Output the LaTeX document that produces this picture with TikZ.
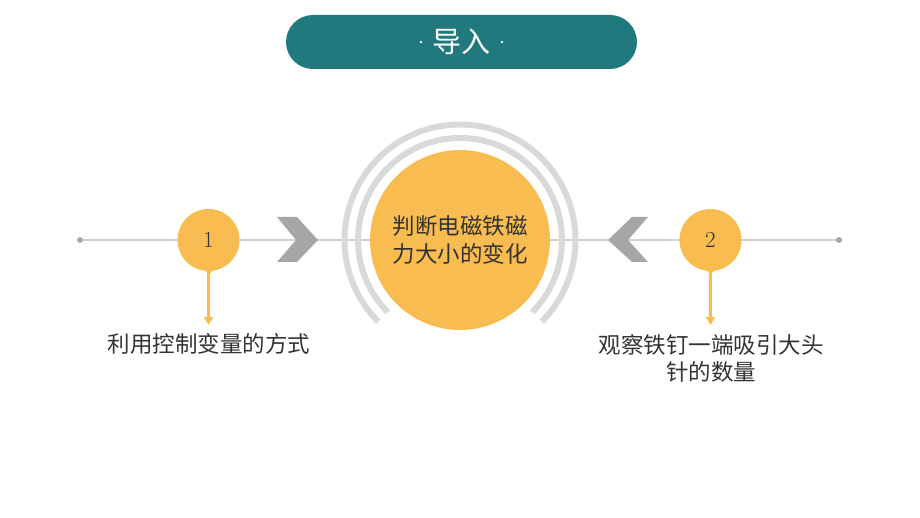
\documentclass[tikz,border=0pt]{standalone}
\usepackage{fontspec}
\newfontfamily\cjk{Noto Sans CJK SC}
\usetikzlibrary{arrows.meta,calc}
\definecolor{teal1}{HTML}{1F797D}
\definecolor{orange1}{HTML}{F8BC50}
\definecolor{arcgray}{HTML}{D9D9D9}
\definecolor{linegray}{HTML}{D0D0D0}
\definecolor{chevgray}{HTML}{A6A6A6}
\definecolor{txt}{HTML}{333333}
\tikzset{
  dotend/.style={circle,fill=chevgray,inner sep=0pt,minimum size=6pt},
  smallball/.style={circle,fill=orange1,inner sep=0pt,minimum size=62pt,font=\fontsize{23}{26}\selectfont,text=txt},
  bigball/.style={circle,fill=orange1,inner sep=0pt,minimum size=180pt,font=\cjk\fontsize{22.5}{28}\selectfont,text=txt,align=center},
  ring/.style={draw=arcgray,line width=6pt},
  chev/.style={fill=chevgray},
  downarrow/.style={draw=orange1,line width=2.5pt,-{Triangle[width=9pt,length=8pt]}},
  label/.style={font=\cjk\fontsize{22.5}{27}\selectfont,text=txt,align=center,inner sep=0pt},
}
\begin{document}
\begin{tikzpicture}[x=1pt,y=1pt]
\useasboundingbox (0,0) rectangle (920,518);
% title pill
\fill[teal1,rounded corners=27pt] (286,449) rectangle (637,503);
\node[font=\fontsize{29}{32}\selectfont,text=white] (title) at (461.5,476) {·\kern1pt{\cjk 导入}\kern1pt·};
% main line
\node[dotend] (dl) at (80,278) {};
\node[dotend] (dr) at (839,278) {};
\draw[linegray,line width=1.2pt] (dl) -- (dr);
% rings
\coordinate (cc) at (460,278);
\draw[ring] ($(cc)+(-45:102pt)$) arc[start angle=-45,end angle=225,radius=102pt];
\draw[ring] ($(cc)+(-45:115.5pt)$) arc[start angle=-45,end angle=225,radius=115.5pt];
% center ball
\node[bigball] (center) at (cc) {判断电磁铁磁\\力大小的变化};
% chevrons
\fill[chev] (277,301) -- (297,301) -- (318,278) -- (297,256) -- (277,256) -- (296,278) -- cycle;
\fill[chev] (648,301) -- (632,301) -- (608,278) -- (632,256) -- (648,256) -- (628,278) -- cycle;
% small balls
\fill[orange1] (203.5,250) -- (214.5,250) -- (209,243) -- cycle;
\fill[orange1] (705,250) -- (716,250) -- (710.5,243) -- cycle;
\node[smallball] (b1) at (208.5,278) {1};
\node[smallball] (b2) at (710.5,278) {2};
% labels
\node[label] (l1) at (209,171) {\strut 利用控制变量的方式};
\node[label,anchor=north] (l2) at (711,184) {观察铁钉一端吸引大头\\针的数量};
\coordinate (a1) at (208.5,193);
\coordinate (a2) at (710.5,193);
\draw[downarrow] (b1.south) -- (a1);
\draw[downarrow] (b2.south) -- (a2);
\end{tikzpicture}
\end{document}
